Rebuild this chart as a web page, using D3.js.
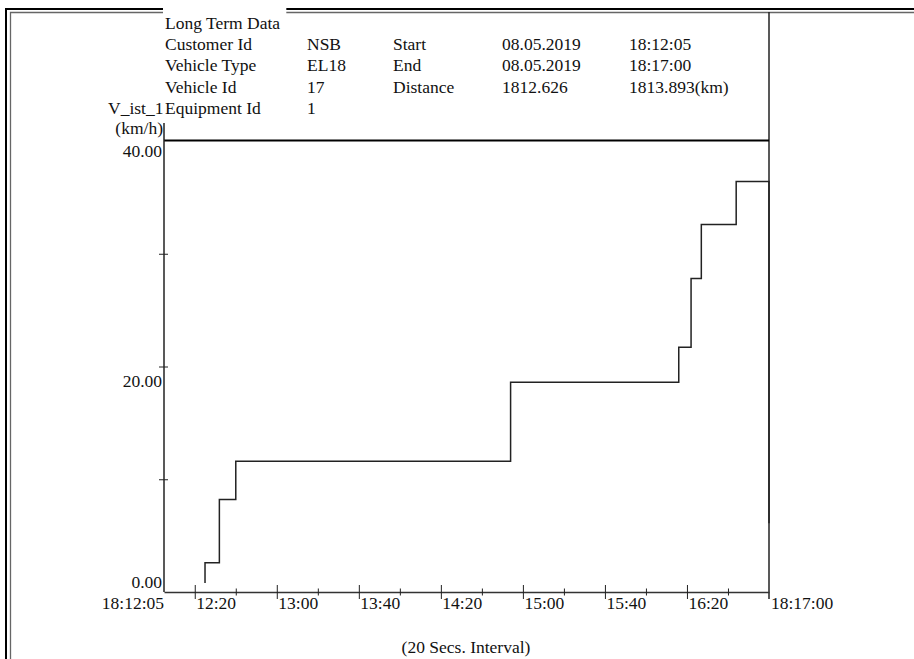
<!DOCTYPE html>
<html>
<head>
<meta charset="utf-8">
<script src="https://cdn.jsdelivr.net/npm/d3@7"></script>
<style>
  body { margin: 0; background: white; }
  svg text { font-family: "Liberation Serif", "DejaVu Serif", serif; font-size: 17.5px; fill: #111; }
</style>
</head>
<body>
<div id="chart"></div>
<script>
var width = 914,
  height = 659;
var margin = { top: 141, right: 145, bottom: 67, left: 164 };

// header table
var title = "Long Term Data";
var headerLabels = ["Customer Id", "Vehicle Type", "Vehicle Id", "Equipment Id"];
var headerValues = ["NSB", "EL18", "17", "1"];
var rangeLabels = ["Start", "End", "Distance"];
var rangeFrom = ["08.05.2019", "08.05.2019", "1812.626"];
var rangeTo = ["18:12:05", "18:17:00", "1813.893(km)"];

// series (speed in km/h at each change)
var sampleTimes = ["18:12:25", "18:12:32", "18:12:40", "18:14:54", "18:16:16", "18:16:22", "18:16:27", "18:16:44", "18:17:00", "18:17:00"];
var speeds = [0.8, 2.6, 8.2, 11.6, 18.6, 21.7, 27.8, 32.6, 36.4, 6.1];

// axes
var startTime = "18:12:05",
  endTime = "18:17:00";
var majorTicks = ["12:20", "13:00", "13:40", "14:20", "15:00", "15:40", "16:20"];
var minorTicks = ["12:40", "13:20", "14:00", "14:40", "15:20", "16:00", "16:40"];
var yTicks = [10, 20, 30];
var yLabels = [0, 20, 40];
var yName = "V_ist_1",
  yUnit = "(km/h)";
var xNote = "(20 Secs. Interval)";

var parseTime = d3.timeParse("%H:%M:%S");

var svg = d3.select("#chart")
  .append("svg")
  .attr("width", width)
  .attr("height", height);

// outer double frame
svg.append("path")
  .attr("d", `M6,${height} V9 H${width}`)
  .attr("fill", "none")
  .style("stroke", "#000")
  .style("stroke-width", 2);
svg.append("path")
  .attr("d", `M10.5,${height} V12.5 H${width}`)
  .attr("fill", "none")
  .style("stroke", "#666")
  .style("stroke-width", 1.3);

// Add X scale
var xScale = d3.scaleTime()
  .domain([parseTime(startTime), parseTime(endTime)])
  .range([margin.left, width - margin.right]);

// Add Y scale
var yScale = d3.scaleLinear()
  .domain([0, 40])
  .range([height - margin.bottom, margin.top]);

// header box lines
svg.append("line")
  .attr("x1", width - margin.right).attr("x2", width - margin.right)
  .attr("y1", 12).attr("y2", height - margin.bottom + 7)
  .style("stroke", "#222")
  .style("stroke-width", 1.5);
svg.append("line")
  .attr("x1", margin.left).attr("x2", width - margin.right)
  .attr("y1", yScale(40) - 0.5).attr("y2", yScale(40) - 0.5)
  .style("stroke", "#000")
  .style("stroke-width", 2);

// title sits on the frame
var titleText = svg.append("text")
  .attr("x", 165)
  .attr("y", 28.5)
  .text(title);
var tb = titleText.node().getBBox();
svg.insert("rect", "text")
  .attr("x", tb.x - 2)
  .attr("y", 0)
  .attr("width", tb.width + 8)
  .attr("height", 20)
  .attr("fill", "white");

var rowY = d => 50 + d * 21.35;

svg.selectAll(".hlabel")
  .data(headerLabels)
  .enter()
  .append("text")
  .attr("class", "hlabel")
  .attr("x", 165)
  .attr("y", (d, i) => rowY(i))
  .text(d => d);

svg.selectAll(".hvalue")
  .data(headerValues)
  .enter()
  .append("text")
  .attr("class", "hvalue")
  .attr("x", 307)
  .attr("y", (d, i) => rowY(i))
  .text(d => d);

svg.selectAll(".rlabel")
  .data(rangeLabels)
  .enter()
  .append("text")
  .attr("class", "rlabel")
  .attr("x", 393)
  .attr("y", (d, i) => rowY(i))
  .text(d => d);

svg.selectAll(".rfrom")
  .data(rangeFrom)
  .enter()
  .append("text")
  .attr("class", "rfrom")
  .attr("x", 502)
  .attr("y", (d, i) => rowY(i))
  .text(d => d);

svg.selectAll(".rto")
  .data(rangeTo)
  .enter()
  .append("text")
  .attr("class", "rto")
  .attr("x", 629)
  .attr("y", (d, i) => rowY(i))
  .text(d => d);

// y name and unit
svg.append("text")
  .attr("x", 163.5)
  .attr("y", rowY(3))
  .style("text-anchor", "end")
  .text(yName);
svg.append("text")
  .attr("x", 163)
  .attr("y", 133.5)
  .style("text-anchor", "end")
  .text(yUnit);

// Define Y axis
var yAxis = d3.axisLeft(yScale)
  .tickValues(yTicks)
  .tickFormat("")
  .tickSizeOuter(0);

var yAxisG = svg.append("g")
  .attr("transform", `translate(${margin.left},0)`)
  .attr("class", "y-axis")
  .call(yAxis);
yAxisG.select(".domain")
  .attr("d", `M0,${yScale(0)}V${yScale(40) - 18}`)
  .style("stroke", "#222")
  .style("stroke-width", 1.5);
yAxisG.selectAll(".tick line")
  .attr("x1", -5)
  .attr("x2", 4)
  .style("stroke", "#222");

// labels hang below their tick, except the bottom one which sits above the axis
svg.selectAll(".ylabel")
  .data(yLabels)
  .enter()
  .append("text")
  .attr("class", "ylabel")
  .attr("x", 162)
  .attr("y", d => {
    if (d === 0) return yScale(d) - 4
    return d === 40 ? yScale(d) + 16 : yScale(d) + 20
  })
  .style("text-anchor", "end")
  .text(d => d.toFixed(2));

// Define X axes
var xAxis = d3.axisBottom(xScale)
  .tickValues(majorTicks.map(d => parseTime("18:" + d)))
  .tickFormat(d3.timeFormat("%M:%S"))
  .tickSizeOuter(0);

var xAxisMinor = d3.axisBottom(xScale)
  .tickValues(minorTicks.map(d => parseTime("18:" + d)))
  .tickFormat("")
  .tickSizeOuter(0);

var xAxisG = svg.append("g")
  .attr("transform", `translate(0,${yScale(0)})`)
  .attr("class", "x-axis")
  .attr("font-family", null)
  .attr("font-size", null)
  .call(xAxis);
xAxisG.select(".domain")
  .style("stroke", "#333")
  .style("stroke-width", 1.5);
xAxisG.selectAll(".tick line")
  .attr("y1", -7)
  .attr("y2", 7)
  .style("stroke", "#222");
xAxisG.selectAll(".tick text")
  .attr("x", 1)
  .attr("y", 17)
  .attr("dy", 0)
  .style("text-anchor", "start")
  .style("font-size", "17.5px")
  .style("font-family", "'Liberation Serif', serif");

var xMinorG = svg.append("g")
  .attr("transform", `translate(0,${yScale(0)})`)
  .call(xAxisMinor);
xMinorG.select(".domain").remove();
xMinorG.selectAll(".tick line")
  .attr("y1", -3.5)
  .attr("y2", 3.5)
  .style("stroke", "#222");

// end labels
svg.append("text")
  .attr("x", xScale(parseTime(startTime)))
  .attr("y", yScale(0) + 17)
  .style("text-anchor", "end")
  .text(startTime);
svg.append("text")
  .attr("x", xScale(parseTime(endTime)) + 2)
  .attr("y", yScale(0) + 17)
  .text(endTime);

svg.append("text")
  .attr("x", 466)
  .attr("y", 653)
  .style("text-anchor", "middle")
  .text(xNote);

// speed line
var line = d3.line()
  .x((d, i) => xScale(parseTime(sampleTimes[i])))
  .y(d => yScale(d))
  .curve(d3.curveStepBefore);

svg.append("path")
  .datum(speeds)
  .attr("class", "line")
  .attr("d", line)
  .attr("fill", "none")
  .style("stroke", "#222")
  .style("stroke-width", 1.5);
</script>
</body>
</html>
